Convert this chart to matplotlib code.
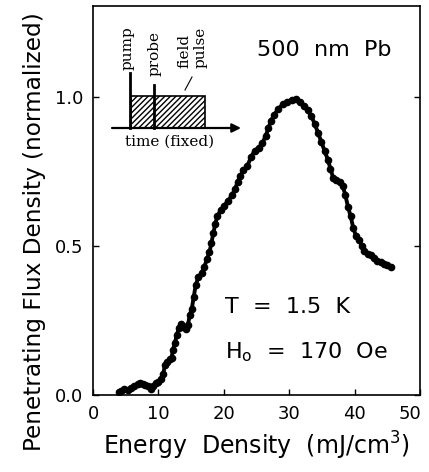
import matplotlib
matplotlib.use("Agg")
import matplotlib.pyplot as plt
from matplotlib.patches import Rectangle
from matplotlib.transforms import ScaledTranslation

# energy density (mJ/cm^3) and normalized penetrating flux
energy = [3.9, 4.3, 4.8, 5.3, 5.8, 6.3, 6.8, 7.2, 7.6, 8.0, 8.4, 8.8, 9.2, 9.6,
          10.0, 10.4, 10.7, 11.0, 11.3, 11.7, 12.0, 12.2, 12.5, 12.8, 13.1, 13.4,
          13.8, 14.2, 14.5, 14.8, 15.1, 15.4, 15.7, 16.1, 16.6, 17.0, 17.4, 17.8,
          18.1, 18.4, 18.7, 19.0, 19.5, 20.0, 20.6, 21.2, 21.7, 22.1, 22.5, 23.0,
          23.6, 24.2, 24.7, 25.3, 25.9, 26.4, 26.8, 27.2, 27.7, 28.3, 29.0, 29.7,
          30.4, 31.0, 31.6, 32.2, 32.8, 33.4, 33.9, 34.4, 34.9, 35.4, 35.9, 36.3,
          36.7, 37.2, 37.7, 38.2, 38.6, 39.0, 39.4, 39.8, 40.2, 40.7, 41.1, 41.5,
          42.0, 42.5, 43.0, 43.5, 44.0, 44.5, 45.0, 45.6]
flux = [0.01, 0.015, 0.02, 0.018, 0.025, 0.03, 0.038, 0.042, 0.038, 0.035, 0.03,
        0.022, 0.03, 0.04, 0.045, 0.055, 0.07, 0.10, 0.11, 0.12, 0.125, 0.15,
        0.175, 0.20, 0.225, 0.24, 0.23, 0.22, 0.235, 0.27, 0.29, 0.33, 0.37,
        0.395, 0.41, 0.43, 0.455, 0.48, 0.51, 0.545, 0.575, 0.60, 0.62, 0.635,
        0.65, 0.67, 0.69, 0.715, 0.735, 0.755, 0.77, 0.80, 0.82, 0.83, 0.845,
        0.87, 0.895, 0.92, 0.94, 0.96, 0.975, 0.985, 0.99, 0.995, 0.985, 0.97,
        0.955, 0.935, 0.91, 0.88, 0.85, 0.82, 0.79, 0.76, 0.73, 0.72, 0.715,
        0.70, 0.67, 0.63, 0.60, 0.56, 0.535, 0.52, 0.50, 0.485, 0.475, 0.47,
        0.46, 0.45, 0.445, 0.44, 0.435, 0.43]

xticks = [0, 10, 20, 30, 40, 50]
yticks = [0.0, 0.5, 1.0]

plt.rcParams["font.family"] = "DejaVu Sans"

fig = plt.figure(figsize=(4.29, 4.72), dpi=100)
ax = fig.add_axes([0.217, 0.163, 0.762, 0.824])

ax.plot(energy, flux, "-o", color="k", lw=2.8, ms=4.5)

ax.set_xlim(0, 50)
ax.set_ylim(0, 1.305)
ax.set_xticks(xticks)
ax.set_yticks(yticks)
ax.set_yticklabels([f"{t:.1f}" for t in yticks])
ax.tick_params(direction="in", length=4, width=1, labelsize=13, pad=7,
               right=True)
for s in ax.spines.values():
    s.set_linewidth(1.2)
# last x label sits a bit left, inside the picture
last = ax.get_xticklabels()[-1]
last.set_transform(last.get_transform() + ScaledTranslation(-7 / 72, 0, fig.dpi_scale_trans))

ax.set_xlabel("Energy  Density  (mJ/cm$^3$)", fontsize=17, labelpad=5)
ax.set_ylabel("Penetrating Flux Density (normalized)", fontsize=16.7)
ax.yaxis.set_label_coords(-0.145, 0.42)

ax.text(0.50, 0.887, "500  nm  Pb", transform=ax.transAxes, fontsize=16,
        va="center", ha="left")
ax.text(0.404, 0.226, "T  =  1.5  K", transform=ax.transAxes, fontsize=16,
        va="center", ha="left")
ax.text(0.404, 0.11, "H$_\\mathrm{o}$  =  170  Oe", transform=ax.transAxes,
        fontsize=16, va="center", ha="left")

# inset timing sketch, in figure pixels
ov = fig.add_axes([0, 0, 1, 1], facecolor="none")
ov.set_xlim(0, 429)
ov.set_ylim(472, 0)
ov.axis("off")

base_y = 128
ov.annotate("", xy=(241, base_y), xytext=(112, base_y),
            arrowprops=dict(arrowstyle="-|>", lw=1.6, color="k",
                            mutation_scale=13, shrinkA=0, shrinkB=0))
ov.add_patch(Rectangle((131, 96), 74, base_y - 96, fill=False, hatch="//////",
                       lw=1.2, edgecolor="k"))
ov.plot([130, 130], [73, base_y], color="k", lw=2)
ov.plot([154, 154], [85, base_y], color="k", lw=2)
ov.plot([185, 192], [90, 77], color="k", lw=0.8)

serif = "DejaVu Serif"
ov.text(128, 70, "pump", rotation=90, ha="center", va="bottom",
        fontsize=11, family=serif)
ov.text(155, 76, "probe", rotation=90, ha="center", va="bottom",
        fontsize=11, family=serif)
ov.text(184, 68, "field", rotation=90, ha="center", va="bottom",
        fontsize=11, family=serif)
ov.text(201, 68, "pulse", rotation=90, ha="center", va="bottom",
        fontsize=11, family=serif)
ov.text(170, 142, "time (fixed)", ha="center", va="center",
        fontsize=11, family=serif)

fig.savefig("out.png", dpi=100)
